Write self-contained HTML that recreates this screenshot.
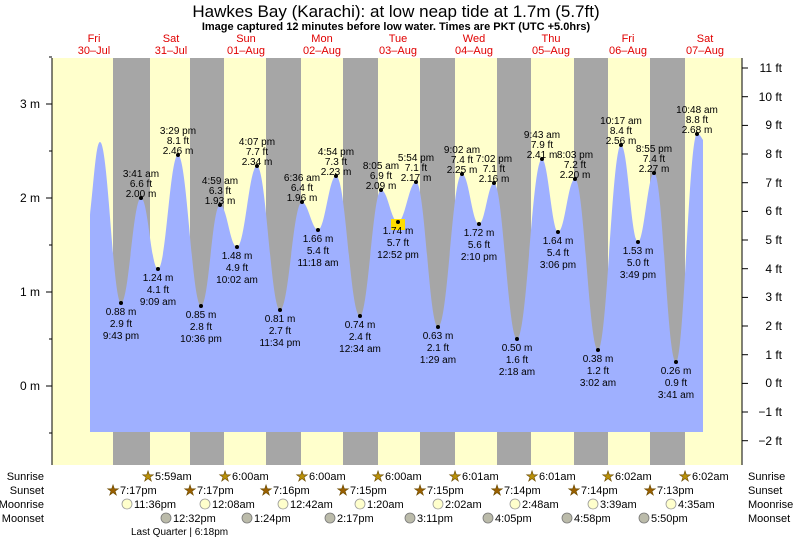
<!DOCTYPE html><html><head><meta charset="utf-8"><style>body{margin:0;background:#fff}svg{display:block;font-family:"Liberation Sans",sans-serif}</style></head><body>
<svg width="793" height="539" viewBox="0 0 793 539" xmlns="http://www.w3.org/2000/svg">
<text x="396" y="17" font-size="17" text-anchor="middle">Hawkes Bay (Karachi): at low  neap tide at 1.7m (5.7ft)</text>
<text x="396" y="30" font-size="11" font-weight="bold" text-anchor="middle">Image captured 12 minutes before low water. Times are PKT (UTC +5.0hrs)</text>
<g font-size="11" fill="#e00000" text-anchor="middle">
<text x="94" y="42">Fri</text><text x="94" y="54">30–Jul</text>
<text x="171" y="42">Sat</text><text x="171" y="54">31–Jul</text>
<text x="246" y="42">Sun</text><text x="246" y="54">01–Aug</text>
<text x="322" y="42">Mon</text><text x="322" y="54">02–Aug</text>
<text x="398" y="42">Tue</text><text x="398" y="54">03–Aug</text>
<text x="474" y="42">Wed</text><text x="474" y="54">04–Aug</text>
<text x="551" y="42">Thu</text><text x="551" y="54">05–Aug</text>
<text x="628" y="42">Fri</text><text x="628" y="54">06–Aug</text>
<text x="705" y="42">Sat</text><text x="705" y="54">07–Aug</text>
</g>
<rect x="52" y="58" width="690" height="407" fill="#ffffcc"/>
<g fill="#a6a6a6">
<rect x="113" y="58" width="37" height="407"/><rect x="190" y="58" width="34" height="407"/><rect x="266" y="58" width="35" height="407"/><rect x="343" y="58" width="35" height="407"/><rect x="420" y="58" width="35" height="407"/><rect x="497" y="58" width="34" height="407"/><rect x="574" y="58" width="34" height="407"/><rect x="650" y="58" width="35" height="407"/>
</g>
<path fill="#9fb0ff" d="M90,215 C94,180 96,142 100,142 C108,142 113,303 121,303 C129,303 133,198 141,198 C148,198 151,269 158,269 C166,269 170,155 178,155 C187,155 192,306 201,306 C209,306 212,205 220,205 C227,205 230,247 237,247 C245,247 249,166 257,166 C266,166 271,310 280,310 C289,310 293,202 302,202 C308,202 312,230 318,230 C325,230 329,176 336,176 C346,176 350,316 360,316 C368,316 373,190 381,190 C388,190 391,222 398,222 C405,222 409,182 416,182 C425,182 429,327 438,327 C448,327 452,174 462,174 C469,174 472,224 479,224 C485,224 488,183 494,183 C503,183 508,339 517,339 C527,339 532,159 542,159 C548,159 552,232 558,232 C565,232 568,179 575,179 C584,179 589,350 598,350 C607,350 612,145 621,145 C628,145 631,242 638,242 C644,242 648,173 654,173 C663,173 667,362 676,362 C684,362 689,134 697,134 C700,134 701,137 703,140 L703,432 L90,432 Z"/>
<g stroke="#000" fill="none"><line x1="52" y1="58" x2="52" y2="465"/><line x1="742" y1="58" x2="742" y2="465"/></g>
<g stroke="#000">
<line x1="46" y1="104" x2="52" y2="104"/><line x1="46" y1="198" x2="52" y2="198"/><line x1="46" y1="292" x2="52" y2="292"/><line x1="46" y1="386" x2="52" y2="386"/>
<line x1="49" y1="151" x2="52" y2="151"/><line x1="49" y1="245" x2="52" y2="245"/><line x1="49" y1="339" x2="52" y2="339"/><line x1="49" y1="433" x2="52" y2="433"/><line x1="49" y1="57" x2="52" y2="57"/>
</g>
<g font-size="12" text-anchor="end"><text x="40" y="108">3 m</text><text x="40" y="202">2 m</text><text x="40" y="296">1 m</text><text x="40" y="390">0 m</text></g>
<g stroke="#000">
<line x1="742" y1="68" x2="748" y2="68"/><line x1="742" y1="96.7" x2="748" y2="96.7"/><line x1="742" y1="125.4" x2="748" y2="125.4"/><line x1="742" y1="154" x2="748" y2="154"/><line x1="742" y1="182.7" x2="748" y2="182.7"/><line x1="742" y1="211.4" x2="748" y2="211.4"/><line x1="742" y1="240" x2="748" y2="240"/><line x1="742" y1="268.7" x2="748" y2="268.7"/><line x1="742" y1="297.4" x2="748" y2="297.4"/><line x1="742" y1="326" x2="748" y2="326"/><line x1="742" y1="354.7" x2="748" y2="354.7"/><line x1="742" y1="383.4" x2="748" y2="383.4"/><line x1="742" y1="412" x2="748" y2="412"/><line x1="742" y1="440.7" x2="748" y2="440.7"/>
</g>
<g font-size="12" text-anchor="end">
<text x="782" y="72">11 ft</text><text x="782" y="101">10 ft</text><text x="782" y="129">9 ft</text><text x="782" y="158">8 ft</text><text x="782" y="187">7 ft</text><text x="782" y="215">6 ft</text><text x="782" y="244">5 ft</text><text x="782" y="273">4 ft</text><text x="782" y="301">3 ft</text><text x="782" y="330">2 ft</text><text x="782" y="359">1 ft</text><text x="782" y="387">0 ft</text><text x="782" y="416">−1 ft</text><text x="782" y="445">−2 ft</text>
</g>
<rect x="391" y="219" width="14" height="11" fill="#ffdd00"/>
<g fill="#000">
<circle cx="141" cy="198" r="2"/><circle cx="178" cy="155" r="2"/><circle cx="220" cy="205" r="2"/><circle cx="257" cy="166" r="2"/><circle cx="302" cy="202" r="2"/><circle cx="336" cy="176" r="2"/><circle cx="381" cy="190" r="2"/><circle cx="416" cy="182" r="2"/><circle cx="462" cy="174" r="2"/><circle cx="494" cy="183" r="2"/><circle cx="542" cy="159" r="2"/><circle cx="575" cy="179" r="2"/><circle cx="621" cy="145" r="2"/><circle cx="654" cy="173" r="2"/><circle cx="697" cy="134" r="2"/>
<circle cx="121" cy="303" r="2"/><circle cx="158" cy="269" r="2"/><circle cx="201" cy="306" r="2"/><circle cx="237" cy="247" r="2"/><circle cx="280" cy="310" r="2"/><circle cx="318" cy="230" r="2"/><circle cx="360" cy="316" r="2"/><circle cx="398" cy="222" r="2"/><circle cx="438" cy="327" r="2"/><circle cx="479" cy="224" r="2"/><circle cx="517" cy="339" r="2"/><circle cx="558" cy="232" r="2"/><circle cx="598" cy="350" r="2"/><circle cx="638" cy="242" r="2"/><circle cx="676" cy="362" r="2"/>
</g>
<g font-size="10" text-anchor="middle">
<text x="141" y="177">3:41 am</text><text x="141" y="187">6.6 ft</text><text x="141" y="197">2.00 m</text>
<text x="178" y="134">3:29 pm</text><text x="178" y="144">8.1 ft</text><text x="178" y="154">2.46 m</text>
<text x="220" y="184">4:59 am</text><text x="220" y="194">6.3 ft</text><text x="220" y="204">1.93 m</text>
<text x="257" y="145">4:07 pm</text><text x="257" y="155">7.7 ft</text><text x="257" y="165">2.34 m</text>
<text x="302" y="181">6:36 am</text><text x="302" y="191">6.4 ft</text><text x="302" y="201">1.96 m</text>
<text x="336" y="155">4:54 pm</text><text x="336" y="165">7.3 ft</text><text x="336" y="175">2.23 m</text>
<text x="381" y="169">8:05 am</text><text x="381" y="179">6.9 ft</text><text x="381" y="189">2.09 m</text>
<text x="416" y="161">5:54 pm</text><text x="416" y="171">7.1 ft</text><text x="416" y="181">2.17 m</text>
<text x="462" y="153">9:02 am</text><text x="462" y="163">7.4 ft</text><text x="462" y="173">2.25 m</text>
<text x="494" y="162">7:02 pm</text><text x="494" y="172">7.1 ft</text><text x="494" y="182">2.16 m</text>
<text x="542" y="138">9:43 am</text><text x="542" y="148">7.9 ft</text><text x="542" y="158">2.41 m</text>
<text x="575" y="158">8:03 pm</text><text x="575" y="168">7.2 ft</text><text x="575" y="178">2.20 m</text>
<text x="621" y="124">10:17 am</text><text x="621" y="134">8.4 ft</text><text x="621" y="144">2.56 m</text>
<text x="654" y="152">8:55 pm</text><text x="654" y="162">7.4 ft</text><text x="654" y="172">2.27 m</text>
<text x="697" y="113">10:48 am</text><text x="697" y="123">8.8 ft</text><text x="697" y="133">2.68 m</text>
<text x="121" y="315">0.88 m</text><text x="121" y="327">2.9 ft</text><text x="121" y="339">9:43 pm</text>
<text x="158" y="281">1.24 m</text><text x="158" y="293">4.1 ft</text><text x="158" y="305">9:09 am</text>
<text x="201" y="318">0.85 m</text><text x="201" y="330">2.8 ft</text><text x="201" y="342">10:36 pm</text>
<text x="237" y="259">1.48 m</text><text x="237" y="271">4.9 ft</text><text x="237" y="283">10:02 am</text>
<text x="280" y="322">0.81 m</text><text x="280" y="334">2.7 ft</text><text x="280" y="346">11:34 pm</text>
<text x="318" y="242">1.66 m</text><text x="318" y="254">5.4 ft</text><text x="318" y="266">11:18 am</text>
<text x="360" y="328">0.74 m</text><text x="360" y="340">2.4 ft</text><text x="360" y="352">12:34 am</text>
<text x="398" y="234">1.74 m</text><text x="398" y="246">5.7 ft</text><text x="398" y="258">12:52 pm</text>
<text x="438" y="339">0.63 m</text><text x="438" y="351">2.1 ft</text><text x="438" y="363">1:29 am</text>
<text x="479" y="236">1.72 m</text><text x="479" y="248">5.6 ft</text><text x="479" y="260">2:10 pm</text>
<text x="517" y="351">0.50 m</text><text x="517" y="363">1.6 ft</text><text x="517" y="375">2:18 am</text>
<text x="558" y="244">1.64 m</text><text x="558" y="256">5.4 ft</text><text x="558" y="268">3:06 pm</text>
<text x="598" y="362">0.38 m</text><text x="598" y="374">1.2 ft</text><text x="598" y="386">3:02 am</text>
<text x="638" y="254">1.53 m</text><text x="638" y="266">5.0 ft</text><text x="638" y="278">3:49 pm</text>
<text x="676" y="374">0.26 m</text><text x="676" y="386">0.9 ft</text><text x="676" y="398">3:41 am</text>
</g>
<g font-size="11">
<text x="44" y="480" text-anchor="end">Sunrise</text><text x="44" y="494" text-anchor="end">Sunset</text><text x="44" y="508" text-anchor="end">Moonrise</text><text x="44" y="522" text-anchor="end">Moonset</text>
<text x="748" y="480">Sunrise</text><text x="748" y="494">Sunset</text><text x="748" y="508">Moonrise</text><text x="748" y="522">Moonset</text>
</g>
<g font-size="14" fill="#b8900a" stroke="#6a4a00" stroke-width="0.6" text-anchor="middle" font-family="DejaVu Sans">
<text x="148" y="481">★</text><text x="225" y="481">★</text><text x="302" y="481">★</text><text x="378" y="481">★</text><text x="455" y="481">★</text><text x="532" y="481">★</text><text x="608" y="481">★</text><text x="685" y="481">★</text>
<text x="113" y="495" fill="#9a6000">★</text><text x="190" y="495" fill="#9a6000">★</text><text x="266" y="495" fill="#9a6000">★</text><text x="343" y="495" fill="#9a6000">★</text><text x="420" y="495" fill="#9a6000">★</text><text x="497" y="495" fill="#9a6000">★</text><text x="574" y="495" fill="#9a6000">★</text><text x="650" y="495" fill="#9a6000">★</text>
</g>
<g font-size="11">
<text x="155" y="480">5:59am</text><text x="232" y="480">6:00am</text><text x="309" y="480">6:00am</text><text x="385" y="480">6:00am</text><text x="462" y="480">6:01am</text><text x="539" y="480">6:01am</text><text x="615" y="480">6:02am</text><text x="692" y="480">6:02am</text>
<text x="120" y="494">7:17pm</text><text x="197" y="494">7:17pm</text><text x="273" y="494">7:16pm</text><text x="350" y="494">7:15pm</text><text x="427" y="494">7:15pm</text><text x="504" y="494">7:14pm</text><text x="581" y="494">7:14pm</text><text x="657" y="494">7:13pm</text>
</g>
<g fill="#ffffcc" stroke="#999" stroke-width="0.8">
<circle cx="127" cy="504" r="5"/><circle cx="205" cy="504" r="5"/><circle cx="283" cy="504" r="5"/><circle cx="360" cy="504" r="5"/><circle cx="438" cy="504" r="5"/><circle cx="515" cy="504" r="5"/><circle cx="593" cy="504" r="5"/><circle cx="671" cy="504" r="5"/>
</g>
<g fill="#bbbbaa" stroke="#777" stroke-width="0.8">
<circle cx="166" cy="518" r="5"/><circle cx="247" cy="518" r="5"/><circle cx="330" cy="518" r="5"/><circle cx="410" cy="518" r="5"/><circle cx="488" cy="518" r="5"/><circle cx="567" cy="518" r="5"/><circle cx="644" cy="518" r="5"/>
</g>
<g font-size="11">
<text x="134" y="508">11:36pm</text><text x="212" y="508">12:08am</text><text x="290" y="508">12:42am</text><text x="367" y="508">1:20am</text><text x="445" y="508">2:02am</text><text x="522" y="508">2:48am</text><text x="600" y="508">3:39am</text><text x="678" y="508">4:35am</text>
<text x="173" y="522">12:32pm</text><text x="254" y="522">1:24pm</text><text x="337" y="522">2:17pm</text><text x="417" y="522">3:11pm</text><text x="495" y="522">4:05pm</text><text x="574" y="522">4:58pm</text><text x="651" y="522">5:50pm</text>
<text x="131" y="535" font-size="10">Last Quarter | 6:18pm</text>
</g>
</svg>
</body></html>
